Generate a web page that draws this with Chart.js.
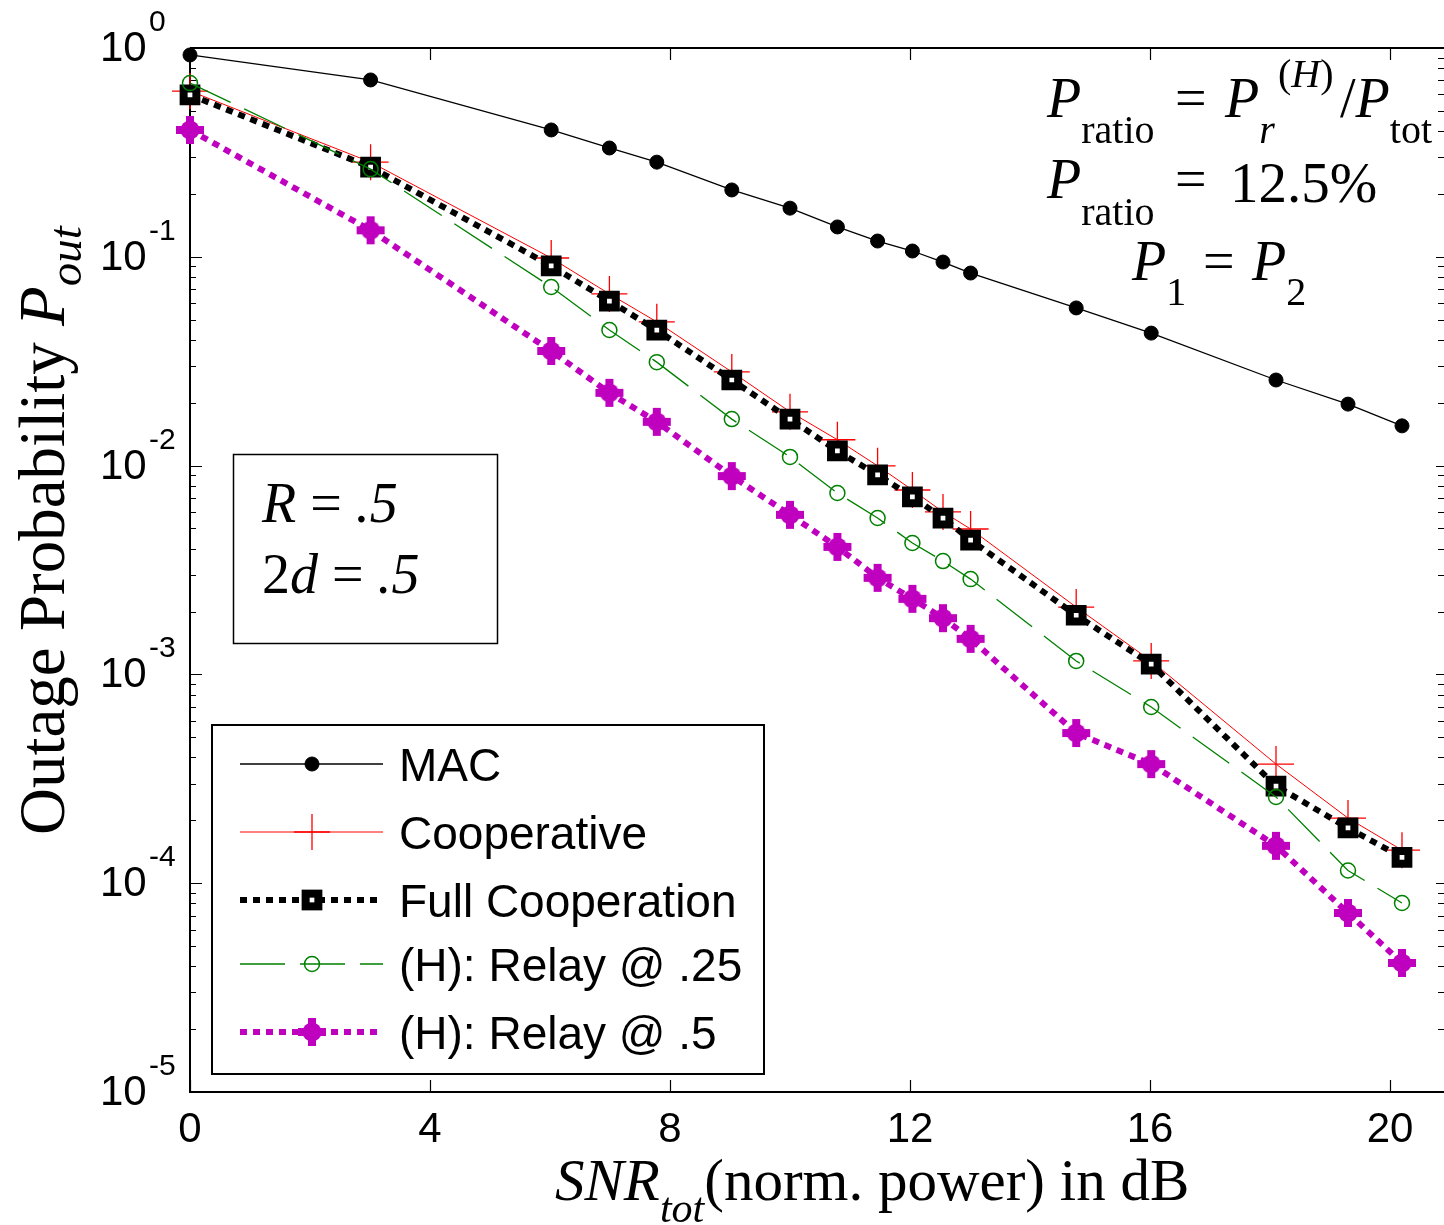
<!DOCTYPE html>
<html>
<head>
<meta charset="utf-8">
<script src="https://cdn.jsdelivr.net/npm/chart.js@4.4.1/dist/chart.umd.min.js"></script>
<style>
  html, body { margin: 0; padding: 0; background: #fff; }
  canvas { display: block; }
</style>
</head>
<body>
<canvas id="outageChart" width="1444" height="1225"></canvas>
<script>
// SNR points in dB (shared by every curve)
const snrDb = [0, 3.01, 6.02, 6.99, 7.78, 9.03, 10, 10.79, 11.46, 12.04, 12.55, 13.01, 14.77, 16.02, 18.1, 19.3, 20.2];

// outage probabilities
const macOut = [0.926, 0.703, 0.405, 0.332, 0.284, 0.209, 0.171, 0.139, 0.119, 0.1066, 0.0944, 0.0836, 0.0569, 0.0431, 0.0257, 0.0197, 0.0155];
const coopOut = [0.622, 0.284, 0.0987, 0.0664, 0.0488, 0.0281, 0.0181, 0.0133, 0.00997, 0.00764, 0.0060, 0.00497, 0.0021, 0.00116, 0.000372, 0.000205, 0.000144];
const fullCoopOut = [0.596, 0.269, 0.0904, 0.0614, 0.0446, 0.0257, 0.0167, 0.01175, 0.00902, 0.00708, 0.00561, 0.0044, 0.00192, 0.00112, 0.000292, 0.000184, 0.000133];
const relay25Out = [0.679, 0.263, 0.0717, 0.0446, 0.0313, 0.0167, 0.011, 0.00739, 0.00561, 0.00426, 0.00349, 0.00286, 0.00116, 0.000698, 0.000259, 0.000115, 0.0000804];
const relay50Out = [0.405, 0.134, 0.0354, 0.0223, 0.0162, 0.00891, 0.00581, 0.00408, 0.0029, 0.0023, 0.00186, 0.00148, 0.000524, 0.000372, 0.000151, 0.000072, 0.0000415];

const seriesLabels = ["MAC", "Cooperative", "Full Cooperation", "(H): Relay @ .25", "(H): Relay @ .5"];
const xTickVals = [0, 4, 8, 12, 16, 20];
const yExponents = [0, -1, -2, -3, -4, -5];

const SERIF = "'Liberation Serif', 'Times New Roman', serif";
const SANS = "'Liberation Sans', Arial, sans-serif";
const MAGENTA = "#bf00bf";
const GREEN = "#008000";

// thick magenta plus marker
const relayMark = document.createElement("canvas");
relayMark.width = 30;
relayMark.height = 30;
(function () {
    const c = relayMark.getContext("2d");
    c.fillStyle = MAGENTA;
    c.fillRect(11, 1, 8, 28);
    c.fillRect(1, 11, 28, 8);
    c.beginPath();
    c.arc(15, 15, 9.5, 0, Math.PI * 2);
    c.fill();
})();

const toPts = (ys) => ys.map((y, i) => ({ x: snrDb[i], y: y }));

const datasets = [
    {
        label: seriesLabels[0], data: toPts(macOut), order: 5,
        borderColor: "#000", borderWidth: 1.3,
        pointStyle: "circle", pointRadius: 7, pointBackgroundColor: "#000", pointBorderColor: "#000", pointBorderWidth: 1,
    },
    {
        label: seriesLabels[1], data: toPts(coopOut), order: 4,
        borderColor: "#ff0000", borderWidth: 1,
        pointStyle: "cross", pointRadius: 18, pointBorderColor: "#ff0000", pointBorderWidth: 1.3,
    },
    {
        label: seriesLabels[2], data: toPts(fullCoopOut), order: 3,
        borderColor: "#000", borderWidth: 6, borderDash: [7, 6],
        pointStyle: "rect", pointRadius: 9, pointBackgroundColor: "#fff", pointBorderColor: "#000", pointBorderWidth: 8,
    },
    {
        label: seriesLabels[3], data: toPts(relay25Out), order: 2,
        borderColor: GREEN, borderWidth: 1.3, borderDash: [45, 15],
        pointStyle: "circle", pointRadius: 7.5, pointBackgroundColor: "rgba(0,0,0,0)", pointBorderColor: GREEN, pointBorderWidth: 1.5,
    },
    {
        label: seriesLabels[4], data: toPts(relay50Out), order: 1,
        borderColor: MAGENTA, borderWidth: 6, borderDash: [7, 6],
        pointStyle: relayMark, pointRadius: 15,
    },
];

// draw text pieces one after another
function runs(ctx, x, y, list) {
    for (const [t, font, dy] of list) {
        ctx.font = font;
        ctx.fillText(t, x, y + (dy || 0));
        x += ctx.measureText(t).width;
    }
    return x;
}

function drawMarker(ctx, ds, x, y) {
    ctx.save();
    ctx.setLineDash([]);
    const r = ds.pointRadius;
    if (ds.pointStyle === relayMark) {
        ctx.drawImage(relayMark, x - 15, y - 15);
    } else if (ds.pointStyle === "circle") {
        ctx.beginPath();
        ctx.arc(x, y, r, 0, Math.PI * 2);
        ctx.fillStyle = ds.pointBackgroundColor;
        ctx.fill();
        ctx.lineWidth = ds.pointBorderWidth;
        ctx.strokeStyle = ds.pointBorderColor;
        ctx.stroke();
    } else if (ds.pointStyle === "cross") {
        ctx.beginPath();
        ctx.moveTo(x - r, y); ctx.lineTo(x + r, y);
        ctx.moveTo(x, y - r); ctx.lineTo(x, y + r);
        ctx.lineWidth = ds.pointBorderWidth;
        ctx.strokeStyle = ds.pointBorderColor;
        ctx.stroke();
    } else if (ds.pointStyle === "rect") {
        const s = r * Math.SQRT1_2;
        ctx.fillStyle = ds.pointBackgroundColor;
        ctx.fillRect(x - s, y - s, 2 * s, 2 * s);
        ctx.lineWidth = ds.pointBorderWidth;
        ctx.strokeStyle = ds.pointBorderColor;
        ctx.strokeRect(x - s, y - s, 2 * s, 2 * s);
    }
    ctx.restore();
}

const framePlugin = {
    id: "frame",
    beforeDraw(chart) {
        const ctx = chart.ctx;
        ctx.save();
        ctx.fillStyle = "#fff";
        ctx.fillRect(0, 0, chart.width, chart.height);
        ctx.restore();
    },
    beforeDatasetsDraw(chart) {
        const ctx = chart.ctx;
        const a = chart.chartArea;
        const xs = chart.scales.x, ys = chart.scales.y;
        ctx.save();
        ctx.strokeStyle = "#000";
        ctx.lineWidth = 2;
        ctx.beginPath();
        ctx.moveTo(a.left, a.top); ctx.lineTo(a.right, a.top);
        ctx.moveTo(a.left, a.top); ctx.lineTo(a.left, a.bottom); ctx.lineTo(a.right, a.bottom);
        ctx.stroke();

        ctx.lineWidth = 1.2;
        ctx.beginPath();
        xTickVals.forEach((v) => {
            const px = Math.round(xs.getPixelForValue(v)) + 0.5;
            ctx.moveTo(px, a.bottom); ctx.lineTo(px, a.bottom - 12);
            ctx.moveTo(px, a.top); ctx.lineTo(px, a.top + 12);
        });
        yExponents.forEach((e) => {
            const py = Math.round(ys.getPixelForValue(Math.pow(10, e))) + 0.5;
            ctx.moveTo(a.left, py); ctx.lineTo(a.left + 12, py);
            ctx.moveTo(a.right, py); ctx.lineTo(a.right - 8, py);
            if (e > -5) {
                for (let m = 2; m <= 9; m++) {
                    const pm = Math.round(ys.getPixelForValue(m * Math.pow(10, e - 1))) + 0.5;
                    ctx.moveTo(a.left, pm); ctx.lineTo(a.left + 6, pm);
                    ctx.moveTo(a.right, pm); ctx.lineTo(a.right - 6, pm);
                }
            }
        });
        ctx.stroke();

        // y tick labels 10^k
        ctx.fillStyle = "#000";
        ctx.textBaseline = "alphabetic";
        yExponents.forEach((e) => {
            const py = ys.getPixelForValue(Math.pow(10, e));
            ctx.font = "42px " + SANS;
            ctx.fillText("10", 100, py + 13);
            ctx.font = "30px " + SANS;
            ctx.fillText(e === 0 ? "0" : "-" + Math.abs(e), 149, py - 17);
        });
        ctx.restore();
    },
    afterDraw(chart) {
        const ctx = chart.ctx;
        const I56 = "italic 56px " + SERIF, R56 = "56px " + SERIF;
        const I40 = "italic 40px " + SERIF, R40 = "40px " + SERIF;
        ctx.save();
        ctx.fillStyle = "#000";
        ctx.textBaseline = "alphabetic";

        // axis titles
        runs(ctx, 555, 1200, [["SNR", "italic 59px " + SERIF], ["tot", "italic 42px " + SERIF, 22], ["(norm. power) in dB", "59px " + SERIF]]);
        ctx.save();
        ctx.translate(64, 835);
        ctx.rotate(-Math.PI / 2);
        runs(ctx, 0, 0, [["Outage Probability ", "65px " + SERIF], ["P", "italic 65px " + SERIF], ["out", "italic 47px " + SERIF, 17]]);
        ctx.restore();

        // top right annotation
        runs(ctx, 1047, 117, [["P", I56], ["ratio", R40, 26]]);
        ctx.font = R56; ctx.fillText("=", 1175, 117);
        runs(ctx, 1225, 117, [["P", I56], ["r", I40, 26]]);
        runs(ctx, 1278, 87, [["(", R40], ["H", I40], [")", R40]]);
        runs(ctx, 1340, 117, [["/", R56], ["P", I56], ["tot", R40, 26]]);

        runs(ctx, 1047, 198, [["P", I56], ["ratio", R40, 27]]);
        ctx.font = R56; ctx.fillText("=", 1175, 198);
        ctx.font = "57px " + SERIF; ctx.fillText("12.5%", 1230, 202);

        runs(ctx, 1132, 280, [["P", I56], ["1", R40, 25]]);
        ctx.font = R56; ctx.fillText("=", 1203, 280);
        runs(ctx, 1252, 280, [["P", I56], ["2", R40, 25]]);

        // parameter box
        ctx.lineWidth = 1.5;
        ctx.strokeStyle = "#000";
        ctx.strokeRect(233.5, 454.5, 264, 189);
        runs(ctx, 262, 522, [["R", I56], [" = ", R56], [".5", I56]]);
        runs(ctx, 262, 593, [["2", R56], ["d", I56], [" = ", R56], [".5", I56]]);

        // legend
        ctx.fillStyle = "#fff";
        ctx.fillRect(212, 725, 552, 349);
        ctx.lineWidth = 2;
        ctx.strokeRect(212, 725, 552, 349);
        const rowY = [764, 832, 900, 964, 1032];
        chart.data.datasets.forEach((ds, i) => {
            const y = rowY[i];
            ctx.save();
            ctx.strokeStyle = ds.borderColor;
            ctx.lineWidth = ds.borderWidth;
            ctx.setLineDash(ds.borderDash || []);
            ctx.beginPath();
            ctx.moveTo(240, y); ctx.lineTo(383, y);
            ctx.stroke();
            ctx.restore();
            drawMarker(ctx, ds, 312, y);
            ctx.fillStyle = "#000";
            ctx.font = "46px " + SANS;
            ctx.fillText(ds.label, 399, y + 17);
        });
        ctx.restore();
    },
};

new Chart(document.getElementById("outageChart"), {
    type: "line",
    data: { datasets: datasets },
    options: {
        responsive: false,
        devicePixelRatio: 1,
        animation: false,
        events: [],
        layout: { autoPadding: false, padding: { top: 48, right: 0, left: 0, bottom: 0 } },
        elements: { line: { tension: 0, fill: false } },
        datasets: { line: { clip: false } },
        plugins: { legend: { display: false }, tooltip: { enabled: false } },
        scales: {
            x: {
                type: "linear",
                min: 0,
                max: 20.9,
                grid: { display: false, drawTicks: false },
                border: { display: false },
                ticks: {
                    stepSize: 4,
                    includeBounds: false,
                    padding: 13,
                    maxRotation: 0,
                    color: "#000",
                    font: { family: SANS, size: 42 },
                },
                afterFit: (s) => { s.height = 133; s.paddingLeft = 0; s.paddingRight = 0; },
            },
            y: {
                type: "logarithmic",
                min: 1e-5,
                max: 1,
                grid: { display: false, drawTicks: false },
                border: { display: false },
                ticks: { display: false },
                afterFit: (s) => { s.width = 190; s.paddingTop = 0; s.paddingBottom = 0; },
            },
        },
    },
    plugins: [framePlugin],
});
</script>
</body>
</html>
